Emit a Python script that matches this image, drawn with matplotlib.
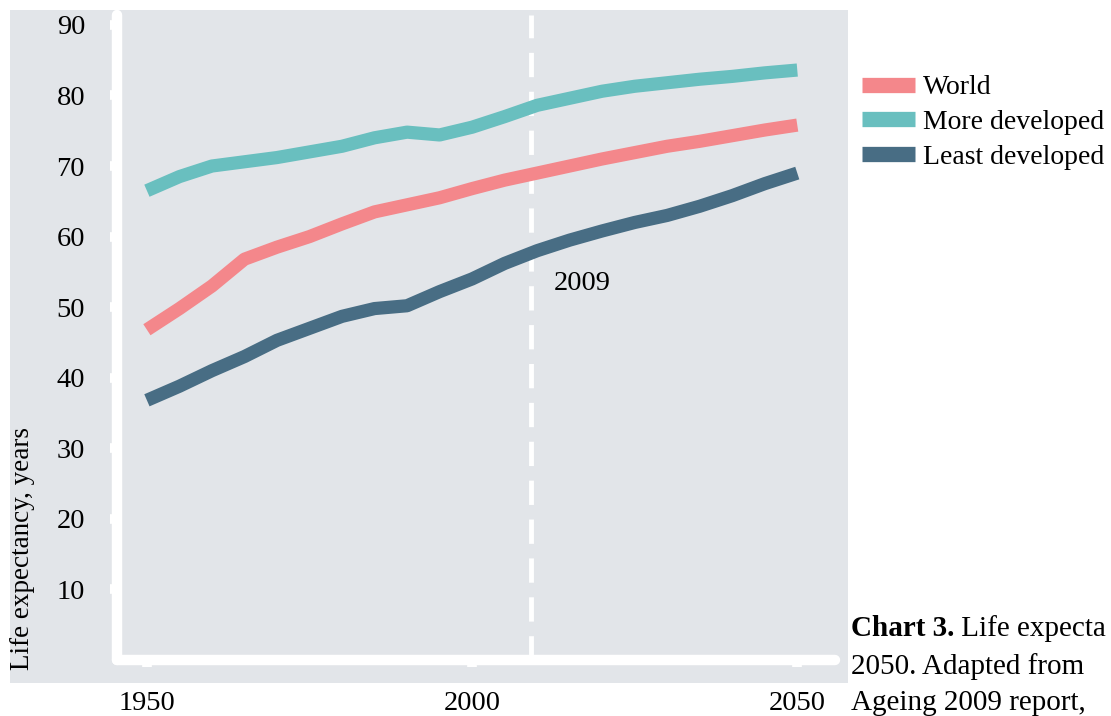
import matplotlib.pyplot as plt
from matplotlib.patches import Rectangle

# life expectancy at birth, five-year steps
years = [1950, 1955, 1960, 1965, 1970, 1975, 1980, 1985, 1990, 1995, 2000,
         2005, 2010, 2015, 2020, 2025, 2030, 2035, 2040, 2045, 2050]
world = [46.8, 49.8, 53.0, 56.8, 58.5, 60.0, 61.8, 63.5, 64.5, 65.5, 66.8,
         68.0, 69.0, 70.0, 71.0, 71.9, 72.8, 73.5, 74.3, 75.1, 75.8]
more_developed = [66.5, 68.5, 70.0, 70.6, 71.2, 72.0, 72.8, 74.0, 74.8, 74.4, 75.5,
                  77.0, 78.6, 79.6, 80.6, 81.3, 81.8, 82.3, 82.7, 83.2, 83.6]
least_developed = [36.8, 38.8, 41.0, 43.0, 45.3, 47.0, 48.7, 49.8, 50.2, 52.2, 54.0,
                   56.2, 58.0, 59.5, 60.8, 62.0, 63.0, 64.3, 65.8, 67.5, 69.0]

series_names = ['World', 'More developed', 'Least developed']
series_colors = ['#f4878b', '#69bfbf', '#486d84']

marker_year = 2009
y_ticks = [10, 20, 30, 40, 50, 60, 70, 80, 90]
x_ticks = [1950, 2000, 2050]

# caption runs past the right edge of the page, only this much shows
caption_bold = 'Chart 3.'
caption_rest = ' Life expecta'
caption_lines = ['2050. Adapted from', 'Ageing 2009 report,']

plt.rcParams['font.family'] = ['Liberation Serif', 'DejaVu Serif']
fs = 20.5
W, H = 1111, 716

fig = plt.figure(figsize=(W / 100, H / 100), dpi=100)
fig.patch.set_facecolor('white')

# grey panel behind the plot and its labels
fig.patches.append(Rectangle((10 / W, 1 - 683 / H), 838 / W, 673 / H,
                             transform=fig.transFigure, facecolor='#e2e5e9',
                             edgecolor='none', zorder=-10))

ax = fig.add_axes([117 / W, 1 - 660 / H, 718 / W, 645 / H])
ax.set_facecolor('none')

ax.axvline(marker_year, color='white', lw=3.5, linestyle=(0, (5, 3)), zorder=1)

data = [world, more_developed, least_developed]
for vals, name, col in zip(data, series_names, series_colors):
    ax.plot(years, vals, color=col, lw=9.5, solid_capstyle='butt',
            solid_joinstyle='round', label=name, zorder=3)

ax.set_xlim(1945.4, 2055.8)
ax.set_ylim(0, 91.4)
ax.set_xticks(x_ticks)
ax.set_xticklabels([str(x) for x in x_ticks])
ax.set_yticks(y_ticks)
ax.set_yticklabels([str(y) for y in y_ticks])

for side in ['top', 'right']:
    ax.spines[side].set_visible(False)
for side in ['left', 'bottom']:
    ax.spines[side].set_color('white')
    ax.spines[side].set_linewidth(7.5)
    ax.spines[side].set_capstyle('round')

ax.tick_params(axis='y', colors='white', width=7, length=5, pad=18,
               labelsize=fs, labelcolor='black')
ax.tick_params(axis='x', colors='white', width=7, length=5, pad=17,
               labelsize=fs, labelcolor='black')

ax.text(2012.5, 53.4, str(marker_year), fontsize=fs, va='center', ha='left')

fig.text(23 / W, 1 - 549 / H, 'Life expectancy, years', rotation=90,
         fontsize=19.5, ha='center', va='center')

leg = fig.legend(loc='upper left', bbox_to_anchor=(862 / W, 1 - 75 / H),
                 frameon=False, fontsize=20, handlelength=1.9, handletextpad=0.3,
                 labelspacing=0.33, borderpad=0, borderaxespad=0)
for line in leg.get_lines():
    line.set_linewidth(11)

# caption, bold lead-in followed by the regular text
cap_fs = 21
renderer = fig.canvas.get_renderer()
t = fig.text(851 / W, 1 - 629 / H, caption_bold, fontsize=cap_fs, fontweight='bold',
             ha='left', va='center')
bb = t.get_window_extent(renderer)
fig.text(bb.x1 / W, 1 - 629 / H, caption_rest, fontsize=cap_fs, ha='left', va='center')
for i, line in enumerate(caption_lines):
    fig.text(851 / W, 1 - (667 + 36 * i) / H, line, fontsize=cap_fs,
             ha='left', va='center')

fig.savefig('out.png', dpi=100)
